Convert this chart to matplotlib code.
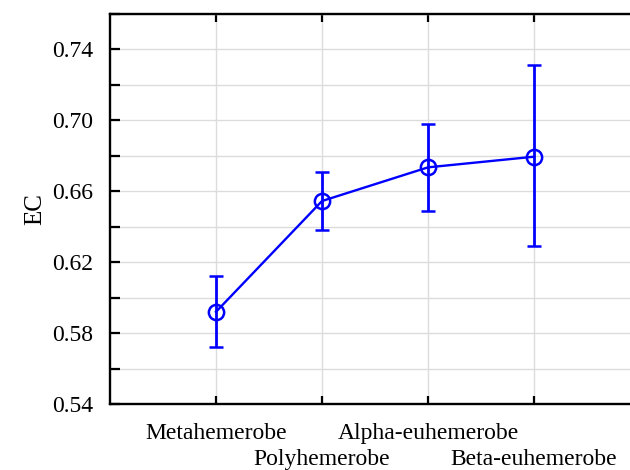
import matplotlib
matplotlib.use("Agg")
import matplotlib.pyplot as plt
from matplotlib.ticker import MultipleLocator

# values
groups = ['Metahemerobe', 'Polyhemerobe', 'Alpha-euhemerobe', 'Beta-euhemerobe']
ec_mean = [0.592, 0.6545, 0.6735, 0.6795]
ec_low = [0.572, 0.638, 0.649, 0.629]
ec_high = [0.612, 0.671, 0.698, 0.731]

plt.rcParams['font.family'] = ['Liberation Serif', 'DejaVu Serif']

fig = plt.figure(figsize=(6.3, 4.7), dpi=100)
# right edge of the axes is cut off in the original
ax = fig.add_axes([110/630, 1 - 404/470, 530/630, 390/470])

x = list(range(1, len(groups) + 1))
yerr = [[m - lo for m, lo in zip(ec_mean, ec_low)],
        [hi - m for m, hi in zip(ec_mean, ec_high)]]
ax.errorbar(x, ec_mean, yerr=yerr, color='#0000ff', lw=1.7, elinewidth=2,
            capsize=4.7, capthick=2, marker='o', ms=11, mfc='none',
            mec='#0000ff', mew=1.8, zorder=3)

ax.set_xlim(0, 5)
ax.set_ylim(0.54, 0.76)
ax.set_xticks(x)
ax.set_xticklabels(groups)
ax.yaxis.set_minor_locator(MultipleLocator(0.02))
ax.set_yticks([0.54, 0.58, 0.62, 0.66, 0.70, 0.74])
ax.yaxis.set_major_formatter(plt.FuncFormatter(lambda v, p: f'{v:.2f}'))
ax.tick_params(axis='both', which='both', direction='in', labelsize=17,
               width=1.6, color='black')
ax.tick_params(axis='x', top=True, length=6)
ax.tick_params(axis='y', which='major', length=7, pad=12)
ax.tick_params(axis='y', which='minor', length=7)
# staggered category labels
for i, t in enumerate(ax.xaxis.get_major_ticks()):
    t.set_pad(13.5 if i % 2 == 0 else 32.5)

ax.grid(True, which='both', color='#dcdcdc', lw=1)
ax.set_axisbelow(True)
for s in ax.spines.values():
    s.set_linewidth(1.7)

ax.set_ylabel('EC', fontsize=18, labelpad=4)

fig.savefig('out.png', dpi=100)
